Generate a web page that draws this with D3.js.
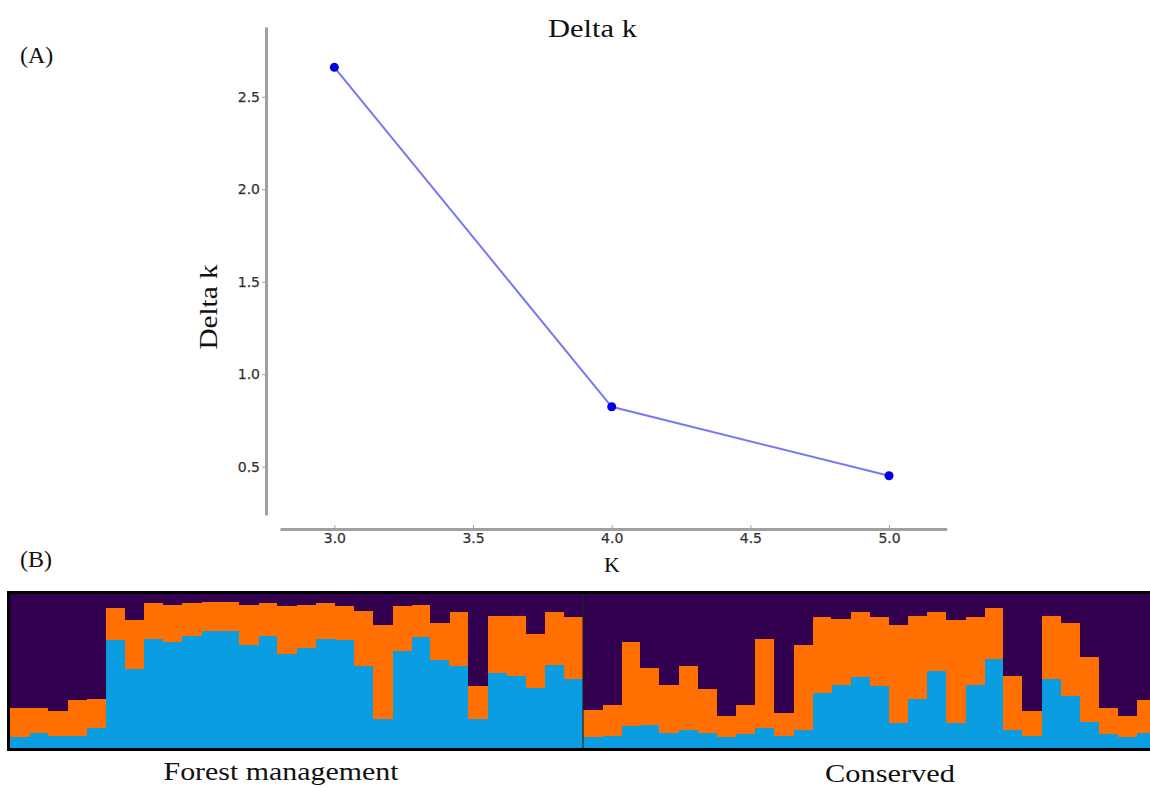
<!DOCTYPE html>
<html>
<head>
<meta charset="utf-8">
<script src="https://cdn.jsdelivr.net/npm/d3@7"></script>
<style>
  body { margin: 0; background: #fff; }
  svg { display: block; }
  .serif { font-family: "Liberation Serif", "Times New Roman", serif; fill: #111; }
  .axis text { font-family: "DejaVu Sans", sans-serif; font-size: 14px; fill: #333; stroke: #333; stroke-width: 0.25px; }
  .axis path, .axis line { stroke: #a0a0a0; }
</style>
</head>
<body>
<script>
// (A) Delta k against K
var kValues = [3, 4, 5];
var deltaK = [2.659, 0.824, 0.451];
var yTicks = [0.5, 1.0, 1.5, 2.0, 2.5];
var xTicks = [3.0, 3.5, 4.0, 4.5, 5.0];

// (B) membership of each individual, K = 3
var groups = ["Forest management", "Conserved"];
var groupSize = [30, 30];
var blueQ = [0.07,0.10,0.08,0.08,0.13,0.70,0.51,0.71,0.69,0.73,0.76,0.76,0.67,0.73,0.61,0.65,0.71,0.70,0.53,0.19,0.63,0.72,0.57,0.53,0.19,0.49,0.47,0.39,0.54,0.45,
             0.07,0.08,0.14,0.15,0.10,0.12,0.10,0.07,0.09,0.13,0.08,0.12,0.36,0.41,0.46,0.40,0.16,0.32,0.50,0.16,0.41,0.58,0.12,0.08,0.45,0.34,0.17,0.09,0.07,0.10];
var orangeQ = [0.19,0.16,0.16,0.23,0.19,0.21,0.32,0.23,0.24,0.21,0.19,0.19,0.26,0.21,0.31,0.28,0.23,0.22,0.36,0.61,0.29,0.21,0.24,0.35,0.21,0.37,0.39,0.35,0.34,0.40,
               0.18,0.20,0.55,0.37,0.31,0.41,0.28,0.14,0.19,0.58,0.15,0.55,0.49,0.43,0.42,0.45,0.64,0.54,0.38,0.67,0.44,0.33,0.35,0.16,0.41,0.47,0.42,0.17,0.14,0.21];
var purpleQ = [0.74,0.74,0.76,0.69,0.68,0.09,0.17,0.06,0.07,0.06,0.05,0.05,0.07,0.06,0.08,0.07,0.06,0.08,0.11,0.20,0.08,0.07,0.19,0.12,0.60,0.14,0.14,0.26,0.12,0.15,
               0.75,0.72,0.31,0.48,0.59,0.47,0.62,0.79,0.72,0.29,0.77,0.33,0.15,0.16,0.12,0.15,0.20,0.14,0.12,0.17,0.15,0.09,0.53,0.76,0.14,0.19,0.41,0.74,0.79,0.69];

var svg = d3.select("body").append("svg")
    .attr("width", 1150)
    .attr("height", 788);

//---------- panel A
var x = d3.scaleLinear().domain([2.804, 5.208]).range([280, 946.7]);
var y = d3.scaleLinear().domain([0.239, 2.877]).range([515, 27]);

var yAxis = svg.append("g")
    .attr("class", "axis")
    .attr("transform", "translate(266,0)")
    .call(d3.axisLeft(y).tickValues(yTicks).tickFormat(d3.format(".1f"))
          .tickSizeInner(4).tickSizeOuter(0).tickPadding(2));
yAxis.select(".domain").attr("stroke-width", 3);

var xAxis = svg.append("g")
    .attr("class", "axis")
    .attr("transform", "translate(0,529)")
    .call(d3.axisBottom(x).tickValues(xTicks).tickFormat(d3.format(".1f"))
          .tickSizeInner(-4).tickSizeOuter(0).tickPadding(4));
xAxis.select(".domain").attr("stroke-width", 3);

var pts = kValues.map(function(k, i){ return {k: k, v: deltaK[i]}; });

svg.append("path")
    .datum(pts)
    .attr("fill", "none")
    .attr("stroke", "#7878f0")
    .attr("stroke-width", 2)
    .attr("d", d3.line().x(function(d){ return x(d.k); }).y(function(d){ return y(d.v); }));

svg.selectAll("circle.pt")
    .data(pts)
    .enter().append("circle")
    .attr("class", "pt")
    .attr("cx", function(d){ return x(d.k); })
    .attr("cy", function(d){ return y(d.v); })
    .attr("r", 4.5)
    .attr("fill", "#0000e6");

svg.append("text").attr("class", "serif")
    .attr("x", 592.5).attr("y", 37)
    .attr("text-anchor", "middle")
    .style("font-size", "26px")
    .attr("textLength", 89).attr("lengthAdjust", "spacingAndGlyphs")
    .text("Delta k");

svg.append("text").attr("class", "serif")
    .attr("transform", "translate(217,307) rotate(-90)")
    .attr("text-anchor", "middle")
    .style("font-size", "26px")
    .attr("textLength", 85).attr("lengthAdjust", "spacingAndGlyphs")
    .text("Delta k");

svg.append("text").attr("class", "serif")
    .attr("x", 612).attr("y", 572)
    .attr("text-anchor", "middle")
    .style("font-size", "22px")
    .text("K");

svg.append("text").attr("class", "serif")
    .attr("x", 20).attr("y", 63)
    .style("font-size", "24px")
    .text("(A)");

svg.append("text").attr("class", "serif")
    .attr("x", 20).attr("y", 567)
    .style("font-size", "24px")
    .text("(B)");

//---------- panel B
var rows = blueQ.map(function(b, i){
  return {id: i, blue: b, orange: orangeQ[i], purple: purpleQ[i]};
});
var keys = ["blue", "orange", "purple"];
var colors = {blue: "#0a9de2", orange: "#ff7000", purple: "#33004f"};

var bx = d3.scaleBand().domain(d3.range(rows.length)).range([10, 1156]).padding(0);
var by = d3.scaleLinear().domain([0, 1]).range([748, 594]);

var stacked = d3.stack().keys(keys)(rows);

var layer = svg.selectAll("g.layer")
    .data(stacked)
    .enter().append("g")
    .attr("class", "layer")
    .attr("fill", function(d){ return colors[d.key]; });

layer.selectAll("rect")
    .data(function(d){ return d; })
    .enter().append("rect")
    .attr("x", function(d){ return bx(d.data.id); })
    .attr("width", bx.bandwidth() + 0.5)
    .attr("y", function(d){ return by(d[1]); })
    .attr("height", function(d){ return by(d[0]) - by(d[1]); })
    .attr("shape-rendering", "crispEdges");

// group divider
var divX = bx(groupSize[0]);
svg.append("line")
    .attr("x1", divX).attr("x2", divX)
    .attr("y1", by(1)).attr("y2", by(0))
    .attr("stroke", "#222")
    .attr("stroke-width", 1.2);

svg.append("rect")
    .attr("x", 8.5).attr("y", 592.5)
    .attr("width", 1160).attr("height", 157)
    .attr("fill", "none")
    .attr("stroke", "#000")
    .attr("stroke-width", 3);

var labelPos = [{x: 281, y: 780, w: 235}, {x: 890, y: 782, w: 130}];
svg.selectAll("text.grp")
    .data(groups)
    .enter().append("text")
    .attr("class", "serif grp")
    .attr("x", function(d, i){ return labelPos[i].x; })
    .attr("y", function(d, i){ return labelPos[i].y; })
    .attr("text-anchor", "middle")
    .style("font-size", "25px")
    .attr("textLength", function(d, i){ return labelPos[i].w; })
    .attr("lengthAdjust", "spacingAndGlyphs")
    .text(function(d){ return d; });
</script>
</body>
</html>
